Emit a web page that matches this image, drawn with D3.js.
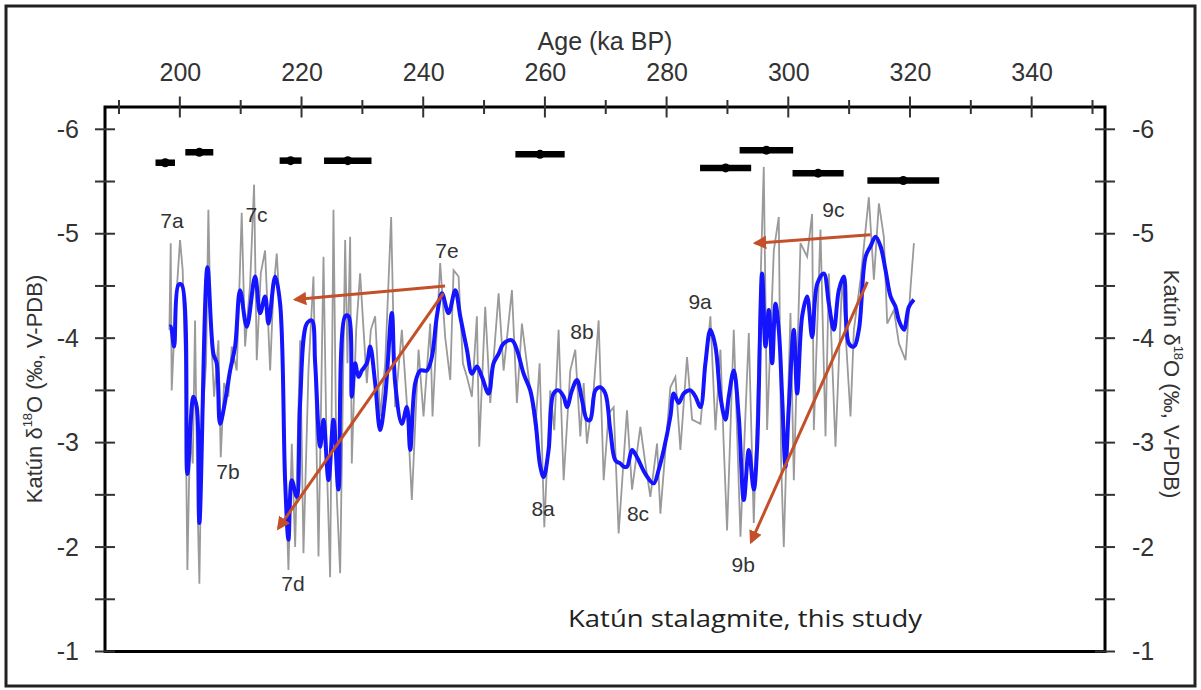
<!DOCTYPE html>
<html><head><meta charset="utf-8">
<script src="https://cdn.jsdelivr.net/npm/d3@7"></script>
<style>body{margin:0;background:#fff}svg{display:block}</style>
</head><body><svg id="c" width="1201" height="690"></svg>
<script>
// ---- data ----
const blueAge = [198.3,198.5,199.05,199.76,200.31,201.24,202.23,202.78,203.21,204.53,205.52,206.06,206.61,207.27,208.26,209.08,209.9,211.0,212.37,213.19,214.01,214.56,215.66,216.48,217.3,217.85,218.4,219.22,219.77,220.87,221.69,222.24,223.06,223.61,224.43,225.25,226.07,227.17,227.72,228.26,228.81,229.36,229.91,230.73,231.28,232.1,232.92,233.75,234.84,235.39,236.49,237.31,237.86,238.68,239.5,240.6,241.42,242.24,243.07,244.16,245.26,246.08,247.18,248.0,248.82,249.65,250.74,251.56,252.39,253.21,254.58,255.4,256.5,257.59,258.42,259.24,259.79,260.61,261.43,262.25,263.08,263.63,264.45,265.27,266.09,266.91,267.46,268.29,269.11,269.93,270.75,271.58,272.4,272.95,273.5,274.32,275.14,276.51,277.88,278.7,279.53,280.62,281.17,281.99,282.82,283.91,284.74,285.56,286.38,287.2,288.03,288.85,289.67,290.22,291.04,291.86,292.69,293.51,294.33,294.88,295.7,296.25,296.8,297.35,297.89,298.44,298.99,299.54,300.09,300.91,301.46,302.28,303.1,303.92,304.75,305.84,306.67,307.49,308.31,309.13,309.95,310.78,311.6,312.7,313.52,314.34,315.16,315.99,316.81,317.63,318.18,319.0,319.82,320.65];
const blueVal = [-4.11,-4.11,-3.92,-4.51,-4.51,-2.70,-3.44,-3.34,-2.23,-4.68,-3.85,-3.76,-3.18,-3.34,-3.69,-3.92,-4.46,-4.11,-4.59,-4.24,-4.40,-4.14,-4.59,-4.33,-2.64,-2.07,-2.64,-2.48,-3.38,-4.14,-4.17,-3.76,-2.96,-3.22,-2.64,-3.22,-2.55,-4.21,-4.21,-3.44,-3.76,-3.63,-3.69,-3.76,-3.92,-3.57,-3.12,-3.44,-4.24,-3.57,-3.18,-3.34,-2.93,-3.57,-3.69,-3.69,-3.82,-4.21,-4.43,-4.24,-4.46,-4.21,-3.89,-3.66,-3.73,-3.63,-3.47,-3.76,-3.85,-3.95,-3.98,-3.89,-3.66,-3.50,-3.22,-2.77,-2.67,-2.93,-3.47,-3.50,-3.44,-3.34,-3.50,-3.60,-3.41,-3.22,-3.22,-3.50,-3.53,-3.47,-3.12,-2.83,-2.80,-2.77,-2.77,-2.93,-2.86,-2.70,-2.61,-2.74,-2.93,-3.25,-3.47,-3.38,-3.47,-3.50,-3.44,-3.34,-3.76,-4.08,-3.92,-3.44,-3.22,-3.44,-3.69,-3.25,-2.45,-2.93,-2.55,-2.96,-4.62,-3.92,-4.27,-3.76,-4.33,-4.08,-3.44,-2.77,-3.34,-4.08,-3.47,-4.21,-4.40,-4.01,-4.52,-4.62,-4.33,-4.08,-4.46,-4.59,-3.95,-3.92,-4.08,-4.78,-4.88,-4.97,-4.88,-4.65,-4.40,-4.30,-4.17,-4.08,-4.30,-4.37];

const grayAge = [198.28,198.5,198.66,199.21,200.03,200.47,200.86,201.24,201.68,202.12,202.5,202.88,203.21,203.6,204.31,204.69,205.08,205.63,206.34,206.72,207.27,207.98,208.53,209.35,210.17,210.72,211.55,212.2,212.64,213.3,214.01,214.84,215.38,215.93,216.75,217.47,217.85,218.4,218.95,219.77,220.32,221.14,221.96,222.79,223.61,224.16,224.7,225.25,225.8,226.35,227.17,227.55,227.99,228.26,228.98,229.63,230.73,231.39,232.1,232.92,233.75,234.73,235.39,236.49,237.42,238.13,239.23,240.05,241.15,241.53,242.79,243.61,244.44,244.99,245.81,246.52,247.18,248.0,248.82,249.21,250.19,251.02,252.39,253.21,254.58,255.4,256.22,257.59,258.42,259.13,259.9,260.88,261.54,262.25,263.08,264.17,264.99,265.82,266.37,266.91,268.01,268.83,269.66,270.48,271.3,272.12,273.49,274.32,275.69,276.51,277.33,278.43,278.98,280.62,281.45,282.27,283.36,284.19,285.56,287.2,288.03,288.85,289.4,289.94,291.04,292.14,293.51,294.33,295.97,296.52,297.62,298.44,298.83,299.26,300.36,300.91,302.01,303.1,303.92,304.2,305.29,306.12,306.67,307.76,308.86,310.23,310.78,311.87,313.24,314.07,314.89,315.71,316.26,317.36,318.18,319.27,320.1,320.65];
const grayVal = [-4.08,-4.91,-3.50,-4.21,-4.94,-4.65,-3.76,-1.78,-3.12,-2.80,-4.17,-2.48,-1.65,-3.12,-3.76,-5.23,-4.08,-3.44,-3.98,-2.86,-3.57,-3.44,-3.92,-3.69,-5.20,-3.92,-4.52,-5.47,-3.79,-4.62,-4.84,-3.69,-4.46,-4.81,-3.95,-2.48,-1.78,-2.99,-2.00,-3.98,-1.94,-3.69,-4.59,-1.91,-4.78,-2.80,-1.71,-5.23,-2.48,-1.75,-4.94,-3.76,-4.97,-2.80,-4.08,-4.62,-3.57,-4.08,-4.21,-3.25,-3.76,-5.16,-3.34,-4.08,-3.28,-2.45,-3.89,-3.25,-4.14,-3.25,-4.72,-4.01,-3.60,-4.65,-4.59,-3.76,-3.63,-3.44,-4.21,-2.96,-4.30,-3.38,-4.43,-3.69,-4.46,-3.38,-4.14,-3.50,-3.12,-3.76,-2.19,-3.50,-3.12,-4.08,-2.64,-3.69,-3.89,-3.06,-3.57,-2.99,-3.50,-4.17,-2.64,-3.28,-3.34,-2.13,-3.31,-2.55,-3.15,-2.80,-2.48,-2.99,-2.32,-3.53,-3.63,-2.93,-3.82,-3.22,-3.18,-4.21,-3.12,-3.89,-2.96,-2.16,-4.08,-2.10,-4.05,-2.23,-5.64,-3.12,-4.84,-5.16,-2.80,-2.00,-4.24,-2.64,-4.91,-4.78,-5.19,-3.12,-5.04,-3.06,-4.62,-2.96,-4.59,-3.25,-4.08,-4.56,-5.35,-4.56,-5.29,-4.97,-4.14,-4.27,-3.95,-3.79,-4.49,-4.91];

// U-Th ages (ka) with error bars, drawn at a fixed level
const datAge = [197.6,203.2,218.2,227.6,259.2,289.7,296.4,304.9,318.9];
const datErr = [1.6,2.3,1.8,3.9,4.05,4.2,4.4,4.2,5.9];
const datLevel = [-5.68,-5.78,-5.70,-5.70,-5.76,-5.63,-5.80,-5.58,-5.51];

// event labels
const labelText = ["7a","7b","7c","7d","7e","8a","8b","8c","9a","9b","9c"];
const labelAge  = [198.7,207.9,212.6,218.6,243.9,259.7,266.1,275.3,285.5,292.6,307.4];
const labelVal  = [-5.13,-2.72,-5.18,-1.65,-4.84,-2.37,-4.06,-2.32,-4.35,-1.83,-5.23];

// arrows (age, value) from -> to
const arrowFromAge = [243.6,243.3,313.5,313.0];
const arrowFromVal = [-4.50,-4.43,-4.99,-4.54];
const arrowToAge   = [219.0,216.2,294.6,293.9];
const arrowToVal   = [-4.37,-2.18,-4.91,-2.05];

const xMajor = [200,220,240,260,280,300,320,340];
const xMinor = [190,210,230,250,270,290,310,330,350];
const yMajor = [-6,-5,-4,-3,-2,-1];
const yMinor = [-5.5,-4.5,-3.5,-2.5,-1.5];

// ---- layout ----
const L = 105, R = 1105, T = 107, B = 651.5;
const svg = d3.select("#c");
const x = d3.scaleLinear().domain([190,350]).range([119,1092.5]);
const y = d3.scaleLinear().domain([-6,-1]).range([129.3,651.5]);

const font = "Liberation Sans, Arial, sans-serif";
const txt = "#333";
const fmt = d => String(d);

// outer border
svg.append("rect").attr("x",6).attr("y",6).attr("width",1189).attr("height",680)
  .attr("fill","none").attr("stroke","#222").attr("stroke-width",3);

// gray raw
const gray = grayAge.map((a,i)=>[a,grayVal[i]]);
svg.append("path").datum(gray)
  .attr("d", d3.line().x(d=>x(d[0])).y(d=>y(d[1])))
  .attr("fill","none").attr("stroke","#9a9a9a").attr("stroke-width",1.8);

// blue smoothed
const blue = blueAge.map((a,i)=>[a,blueVal[i]]);
svg.append("path").datum(blue)
  .attr("d", d3.line().curve(d3.curveCatmullRom.alpha(0.5)).x(d=>x(d[0])).y(d=>y(d[1])))
  .attr("fill","none").attr("stroke","#1414ff").attr("stroke-width",4).attr("stroke-linejoin","round");

// age bars
const bars = svg.append("g");
datAge.forEach((a,i)=>{
  bars.append("line").attr("x1",x(a-datErr[i])).attr("x2",x(a+datErr[i]))
    .attr("y1",y(datLevel[i])).attr("y2",y(datLevel[i]))
    .attr("stroke","#000").attr("stroke-width",6.5);
  bars.append("circle").attr("cx",x(a)).attr("cy",y(datLevel[i])).attr("r",4.5).attr("fill","#000");
});

// arrows
const defs = svg.append("defs");
defs.append("marker").attr("id","ah").attr("viewBox","0 0 10 10").attr("refX",8).attr("refY",5)
  .attr("markerWidth",4.5).attr("markerHeight",4.5).attr("orient","auto-start-reverse")
  .append("path").attr("d","M0,0 L10,5 L0,10 z").attr("fill","#c4502a");
arrowFromAge.forEach((a,i)=>{
  svg.append("line").attr("x1",x(a)).attr("y1",y(arrowFromVal[i]))
    .attr("x2",x(arrowToAge[i])).attr("y2",y(arrowToVal[i]))
    .attr("stroke","#c4502a").attr("stroke-width",3).attr("marker-end","url(#ah)");
});

// labels
labelText.forEach((t,i)=>{
  svg.append("text").attr("x",x(labelAge[i])).attr("y",y(labelVal[i]))
    .attr("text-anchor","middle").attr("dominant-baseline","central")
    .attr("font-family",font).attr("font-size",21).attr("fill",txt).text(t);
});

// frame
svg.append("rect").attr("x",L).attr("y",T).attr("width",R-L).attr("height",B-T)
  .attr("fill","none").attr("stroke","#000").attr("stroke-width",3);

// top axis
const gTop = svg.append("g").attr("transform",`translate(0,${T})`)
  .call(d3.axisTop(x).tickValues(xMajor).tickSize(0).tickPadding(26).tickFormat(fmt));
gTop.select(".domain").remove();
gTop.selectAll("text").attr("font-family",font).attr("font-size",25).attr("fill",txt);
xMajor.forEach(v=>svg.append("line").attr("x1",x(v)).attr("x2",x(v)).attr("y1",T-10.5).attr("y2",T+10.5).attr("stroke","#333").attr("stroke-width",2));
xMinor.forEach(v=>svg.append("line").attr("x1",x(v)).attr("x2",x(v)).attr("y1",T-7).attr("y2",T+7).attr("stroke","#333").attr("stroke-width",2));

// left axis
const gL = svg.append("g").attr("transform",`translate(${L},0)`)
  .call(d3.axisLeft(y).tickValues(yMajor).tickSize(0).tickPadding(26).tickFormat(fmt));
gL.select(".domain").remove();
gL.selectAll("text").attr("font-family",font).attr("font-size",25).attr("fill",txt);
// right axis
const gR = svg.append("g").attr("transform",`translate(${R},0)`)
  .call(d3.axisRight(y).tickValues(yMajor).tickSize(0).tickPadding(27).tickFormat(fmt));
gR.select(".domain").remove();
gR.selectAll("text").attr("font-family",font).attr("font-size",25).attr("fill",txt);
[L,R].forEach(px=>{
  yMajor.concat(yMinor).forEach(v=>svg.append("line").attr("x1",px-10).attr("x2",px+10).attr("y1",y(v)).attr("y2",y(v)).attr("stroke","#333").attr("stroke-width",2));
});

// titles
svg.append("text").attr("x",605).attr("y",41).attr("text-anchor","middle").attr("dominant-baseline","central")
  .attr("font-family",font).attr("font-size",25).attr("fill",txt).text("Age (ka BP)");
function yTitle(cx, cy, rot){
  const t = svg.append("text").attr("transform",`translate(${cx},${cy}) rotate(${rot})`)
    .attr("text-anchor","middle").attr("dominant-baseline","central")
    .attr("font-family",font).attr("font-size",22).attr("fill",txt);
  t.append("tspan").text("Katún δ");
  t.append("tspan").attr("font-size",13).attr("dy",-7).text("18");
  t.append("tspan").attr("dy",7).text("O (‰, V-PDB)");
}
yTitle(34, 389, -90);
yTitle(1172, 384, 90);

// caption
svg.append("text").attr("x",568).attr("y",627).attr("font-family","Open Sans, sans-serif")
  .attr("font-size",24).attr("fill","#222").attr("textLength",354).attr("lengthAdjust","spacingAndGlyphs")
  .text("Katún stalagmite, this study");
</script></body></html>
